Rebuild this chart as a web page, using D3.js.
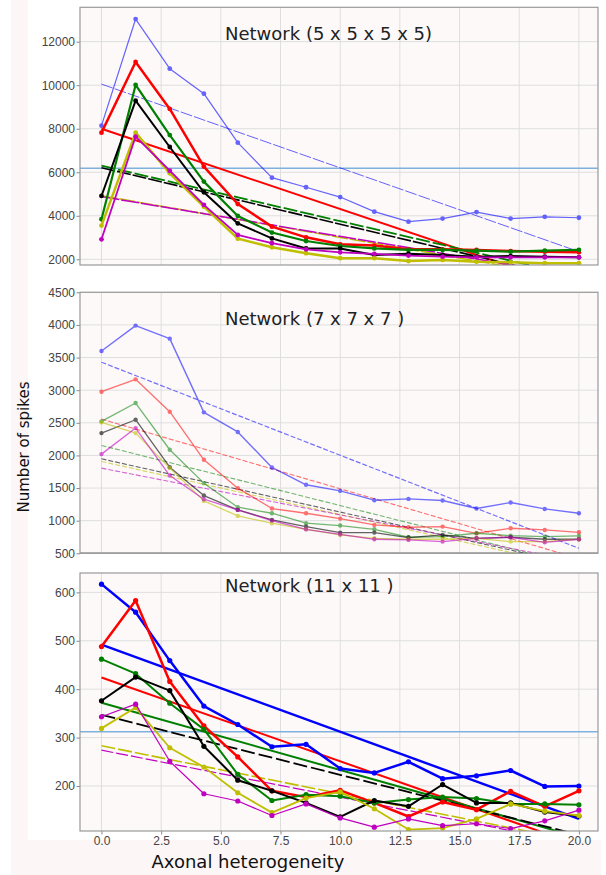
<!DOCTYPE html>
<html>
<head>
<meta charset="utf-8">
<script src="https://cdnjs.cloudflare.com/ajax/libs/d3/7.8.5/d3.min.js"></script>
<style>
  body { margin: 0; background: #fff; }
  svg { display: block; font-family: "DejaVu Sans", sans-serif; }
</style>
</head>
<body>
<svg id="chart" width="606" height="875"></svg>
<script>
// axonal heterogeneity values (15 runs)
const xs = [0, 1.43, 2.86, 4.29, 5.71, 7.14, 8.57, 10.0, 11.43, 12.86, 14.29, 15.71, 17.14, 18.57, 20.0];
const xTicks = [0, 2.5, 5, 7.5, 10, 12.5, 15, 17.5, 20];
const seriesNames = ["blue", "red", "green", "black", "yellow", "magenta"];

// Network (5 x 5 x 5 x 5)
const p1Ticks = [2000, 4000, 6000, 8000, 10000, 12000];
const p1Blue    = [8140, 13040, 10760, 9610, 7360, 5750, 5310, 4860, 4190, 3730, 3870, 4170, 3870, 3950, 3910];
const p1Red     = [7820, 11070, 8910, 6260, 4540, 3500, 3010, 2690, 2630, 2460, 2460, 2430, 2380, 2350, 2320];
const p1Green   = [3840, 10010, 7710, 5570, 3990, 3230, 2840, 2610, 2500, 2430, 2430, 2400, 2350, 2400, 2430];
const p1Black   = [4910, 9290, 7160, 5080, 3650, 2960, 2500, 2500, 2200, 2250, 2200, 2120, 2150, 2120, 2090];
const p1Yellow  = [3550, 7820, 5950, 4420, 2950, 2550, 2280, 2050, 2050, 1920, 1970, 1890, 1860, 1820, 1820];
const p1Magenta = [2920, 7640, 6070, 4500, 3120, 2740, 2460, 2320, 2250, 2170, 2120, 2090, 2090, 2090, 2090];
// fitted trend, value at x=0 and x=20
const p1Fits = [[10050, 2350], [8000, 620], [6300, 1210], [6210, 1020], [4920, 1100], [4880, 1230]];
const p1Ref = 6180;

// Network (7 x 7 x 7)
const p2Ticks = [500, 1000, 1500, 2000, 2500, 3000, 3500, 4000, 4500];
const p2Blue    = [3600, 3990, 3790, 2660, 2360, 1815, 1550, 1457, 1314, 1334, 1309, 1186, 1278, 1180, 1114];
const p2Red     = [2977, 3166, 2670, 1933, 1498, 1186, 1114, 1032, 935, 899, 909, 807, 884, 858, 822];
const p2Green   = [2522, 2803, 2087, 1575, 1206, 1114, 961, 925, 868, 746, 756, 807, 771, 756, 766];
const p2Black   = [2342, 2547, 1820, 1385, 1165, 1012, 909, 817, 817, 741, 781, 730, 746, 715, 715];
const p2Yellow  = [2506, 2342, 1805, 1303, 1073, 961, 868, 781, 730, 715, 715, 730, 679, 679, 715];
const p2Magenta = [2020, 2419, 1692, 1329, 1165, 1001, 868, 791, 715, 705, 679, 730, 746, 669, 715];
const p2Fits = [[3428, 577], [2557, 420], [2153, 310], [1948, 316], [1907, 280], [1805, 372]];
const p2Ref = 500;

// Network (11 x 11)
const p3Ticks = [200, 300, 400, 500, 600];
const p3Blue    = [617, 559, 459, 365, 327, 281, 286, 236, 227, 250, 215, 221, 232, 199, 200];
const p3Red     = [488, 583, 416, 324, 260, 190, 177, 191, 165, 137, 167, 151, 189, 158, 190];
const p3Green   = [462, 432, 371, 317, 224, 170, 182, 179, 165, 172, 177, 174, 163, 163, 161];
const p3Black   = [376, 425, 397, 282, 212, 190, 165, 136, 170, 158, 203, 165, 165, 146, 138];
const p3Yellow  = [319, 362, 279, 239, 186, 145, 175, 188, 153, 110, 113, 132, 163, 148, 139];
const p3Magenta = [343, 369, 251, 184, 169, 139, 163, 134, 115, 132, 118, 122, 112, 128, 150];
const p3Fits = [[492, 132], [424, 78], [372, 94], [347, 99], [283, 85], [274, 80]];
const p3Ref = 312;

const colors = {
  blue: "#0000ff", red: "#ff0000", green: "#008000",
  black: "#000000", yellow: "#bfbf00", magenta: "#bf00bf"
};

const svg = d3.select("#chart");
const left = 80, right = 598;

// faint strips from the stitched source image
svg.append("rect").attr("x", 11).attr("y", 0).attr("width", 17).attr("height", 875).attr("fill", "#fdf6f6");
svg.append("rect").attr("x", 11).attr("y", 840).attr("width", 590).attr("height", 35).attr("fill", "#fdf6f6");

const x = d3.scaleLinear().domain([-0.9, 20.8]).range([left, right]);

const panels = [
  {
    top: 7.3, bottom: 265, domain: [1738, 13580], ticks: p1Ticks, title: "Network (5 x 5 x 5 x 5)", titleY: 34,
    series: [p1Blue, p1Red, p1Green, p1Black, p1Yellow, p1Magenta], fits: p1Fits, ref: p1Ref, refColor: "#7fb1dd",
    width: [1.2, 2.5, 2.2, 2, 2.5, 1.8], alpha: [0.6, 1, 1, 1, 1, 1],
    fitWidth: [1, 2, 1.8, 1.6, 1.5, 1.5], fitDash: ["12,2", "none", "14,3", "14,2", "16,2", "18,2"], r: 2.4
  },
  {
    top: 292.3, bottom: 553.3, domain: [500, 4500], ticks: p2Ticks, title: "Network (7 x 7 x 7 )", titleY: 319,
    series: [p2Blue, p2Red, p2Green, p2Black, p2Yellow, p2Magenta], fits: p2Fits, ref: p2Ref, refColor: "#777",
    width: [1.4, 1.3, 1.3, 1.3, 1.3, 1.3], alpha: [0.55, 0.55, 0.55, 0.6, 0.6, 0.6],
    fitWidth: [1.2, 1.1, 1.1, 1.1, 1.1, 1.1], fitDash: ["5,2", "5,2", "5,2", "5,2", "5,2", "5,2"], r: 2.2
  },
  {
    top: 573, bottom: 831, domain: [107, 640], ticks: p3Ticks, title: "Network (11 x 11 )", titleY: 586,
    series: [p3Blue, p3Red, p3Green, p3Black, p3Yellow, p3Magenta], fits: p3Fits, ref: p3Ref, refColor: "#7fb1dd",
    width: [2.5, 2.5, 2, 2, 1.8, 1.2], alpha: [1, 1, 1, 1, 1, 1],
    fitWidth: [2.4, 2, 2, 1.8, 1.6, 1.2], fitDash: ["none", "none", "none", "14,4", "14,3", "12,3"], r: 2.6
  }
];

panels.forEach((p, pi) => {
  const y = d3.scaleLinear().domain(p.domain).range([p.bottom, p.top]);
  const g = svg.append("g");

  const clipId = "clip" + pi;
  svg.append("clipPath").attr("id", clipId)
    .append("rect").attr("x", left).attr("y", p.top)
    .attr("width", right - left).attr("height", p.bottom - p.top);

  g.append("rect")
    .attr("x", left).attr("y", p.top)
    .attr("width", right - left).attr("height", p.bottom - p.top)
    .attr("fill", "#fdf9f9");

  // grid
  g.append("g").selectAll("line").data(xTicks).join("line")
    .attr("x1", d => x(d)).attr("x2", d => x(d))
    .attr("y1", p.top).attr("y2", p.bottom)
    .attr("stroke", "#dedede").attr("stroke-width", 1);
  g.append("g").selectAll("line").data(p.ticks).join("line")
    .attr("x1", left).attr("x2", right)
    .attr("y1", d => y(d)).attr("y2", d => y(d))
    .attr("stroke", "#dedede").attr("stroke-width", 1);

  // y axis
  const yAxis = d3.axisLeft(y).tickValues(p.ticks).tickSize(3.5).tickPadding(1.5).tickFormat(d3.format("d"));
  const ya = g.append("g").attr("transform", `translate(${left},0)`).call(yAxis);
  ya.select(".domain").remove();
  ya.selectAll("line").attr("stroke", "#888");
  ya.selectAll("text").attr("fill", "#444").style("font-size", "12px");

  // x axis only on the last panel
  if (pi === panels.length - 1) {
    const xAxis = d3.axisBottom(x).tickValues(xTicks).tickSize(3.5).tickPadding(2).tickFormat(d3.format(".1f"));
    const xa = g.append("g").attr("transform", `translate(0,${p.bottom})`).call(xAxis);
    xa.select(".domain").remove();
    xa.selectAll("line").attr("stroke", "#888");
    xa.selectAll("text").attr("fill", "#444").style("font-size", "12px");
  }

  const plot = g.append("g").attr("clip-path", `url(#${clipId})`);

  // reference line
  plot.append("line")
    .attr("x1", left).attr("x2", right)
    .attr("y1", y(p.ref)).attr("y2", y(p.ref))
    .attr("stroke", p.refColor).attr("stroke-width", 1.5);

  const line = d3.line().x((d, i) => x(xs[i])).y(d => y(d));

  p.series.forEach((vals, si) => {
    const c = colors[seriesNames[si]];
    const fit = p.fits[si];
    plot.append("line")
      .attr("x1", x(xs[0])).attr("y1", y(fit[0]))
      .attr("x2", x(xs[xs.length - 1])).attr("y2", y(fit[1]))
      .attr("stroke", c).attr("stroke-width", p.fitWidth[si])
      .attr("stroke-dasharray", p.fitDash[si])
      .attr("opacity", p.alpha[si]);
  });

  p.series.forEach((vals, si) => {
    const c = colors[seriesNames[si]];
    const sg = plot.append("g").attr("opacity", p.alpha[si]);
    sg.append("path").datum(vals)
      .attr("fill", "none").attr("stroke", c)
      .attr("stroke-width", p.width[si])
      .attr("stroke-linejoin", "round")
      .attr("d", line);
    sg.selectAll("circle").data(vals).join("circle")
      .attr("cx", (d, i) => x(xs[i])).attr("cy", d => y(d))
      .attr("r", p.r).attr("fill", c);
  });

  // frame
  g.append("rect")
    .attr("x", left).attr("y", p.top)
    .attr("width", right - left).attr("height", p.bottom - p.top)
    .attr("fill", "none").attr("stroke", "#999").attr("stroke-width", 1.2);

  g.append("text")
    .attr("x", 225).attr("y", p.titleY).attr("dy", "0.35em")
    .attr("fill", "#222").style("font-size", "18px")
    .text(p.title);
});

svg.append("text")
  .attr("transform", "translate(24,447) rotate(-90)")
  .attr("text-anchor", "middle").attr("dy", "0.35em")
  .attr("fill", "#111").style("font-size", "15px")
  .text("Number of spikes");

svg.append("text")
  .attr("x", 248).attr("y", 862).attr("dy", "0.35em")
  .attr("text-anchor", "middle")
  .attr("fill", "#111").style("font-size", "18px")
  .text("Axonal heterogeneity");
</script>
</body>
</html>
